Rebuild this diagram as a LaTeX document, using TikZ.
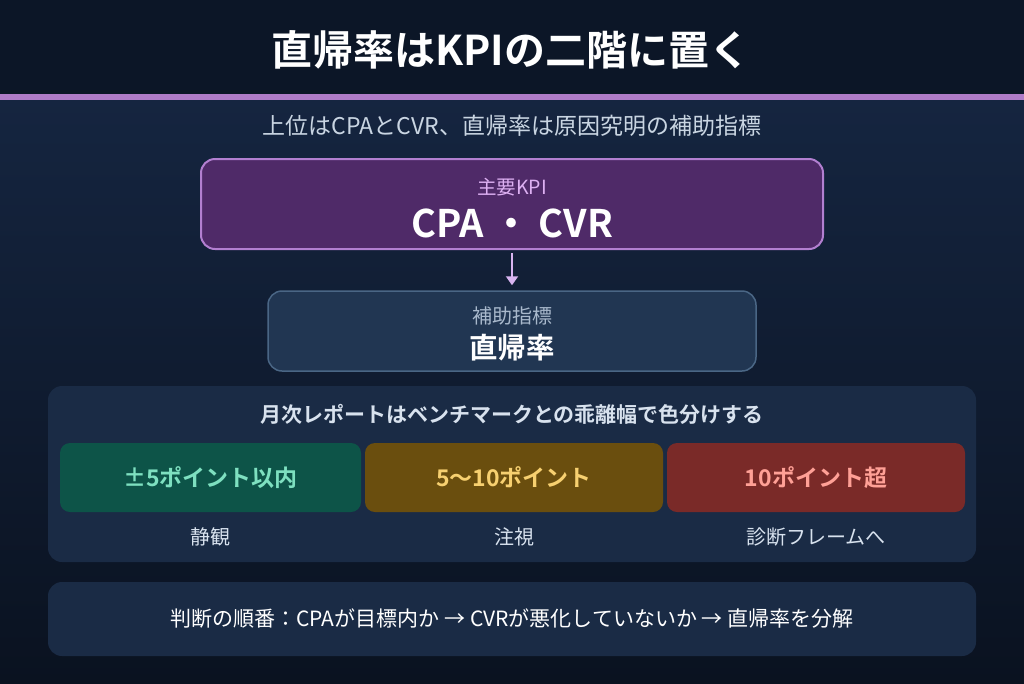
\documentclass[tikz,border=0pt]{standalone}
\usepackage{fontspec}
\setmainfont{Noto Sans CJK JP}
\newfontfamily\jpb{Noto Sans CJK JP Bold}
\usetikzlibrary{arrows.meta}
\definecolor{hdrbg}{HTML}{0C1627}
\definecolor{bgtop}{HTML}{152540}
\definecolor{bgbot}{HTML}{0A1220}
\definecolor{rule}{HTML}{B07CC8}
\definecolor{subt}{HTML}{C9D5E2}
\definecolor{kpifill}{HTML}{4F2A68}
\definecolor{kpiline}{HTML}{B27FD0}
\definecolor{kpilab}{HTML}{DDB0F2}
\definecolor{arrowc}{HTML}{D8B4F0}
\definecolor{subfill}{HTML}{213652}
\definecolor{subline}{HTML}{4A6685}
\definecolor{sublab}{HTML}{A9B9CC}
\definecolor{panel}{HTML}{1A2B45}
\definecolor{paneltxt}{HTML}{D8E2EE}
\definecolor{gfill}{HTML}{0D5448}
\definecolor{gtxt}{HTML}{7EE0C0}
\definecolor{yfill}{HTML}{6A4E0E}
\definecolor{ytxt}{HTML}{F7D070}
\definecolor{rfill}{HTML}{7A2A28}
\definecolor{rtxt}{HTML}{FFA096}
\begin{document}
\begin{tikzpicture}[x=1pt,y=-1pt,
  box/.style={rounded corners=14pt, inner sep=0pt},
  cell/.style={rounded corners=10pt, minimum width=300pt, minimum height=69pt, inner sep=0pt, font=\jpb\fontsize{23}{27}\selectfont},
  lab/.style={text=paneltxt, font=\fontsize{20}{24}\selectfont, inner sep=0pt}]
\useasboundingbox (0,0) rectangle (1024,683);
\shade[top color=bgtop, bottom color=bgbot] (0,97) rectangle (1024,683);
\fill[hdrbg] (0,0) rectangle (1024,94);
\fill[rule] (0,94) rectangle (1024,100);
\node[text=white, font=\jpb\fontsize{41}{45}\selectfont, inner sep=0pt] (title) at (511,50) {直帰率はKPIの二階に置く};
\node[text=subt, font=\fontsize{23}{26}\selectfont, inner sep=0pt] (subtitle) at (512,126) {上位はCPAとCVR、直帰率は原因究明の補助指標};
% main KPI box
\node[box, draw=kpiline, line width=2pt, fill=kpifill, minimum width=622pt, minimum height=90pt] (kpi) at (512,204) {};
\node[text=kpilab, font=\fontsize{19.5}{22}\selectfont, inner sep=0pt] (kpilabel) at (512,187) {主要KPI};
\node[text=white, font=\jpb\fontsize{38}{42}\selectfont, inner sep=0pt] (kpival) at (512,223) {CPA ・ CVR};
% sub box
\node[box, draw=subline, line width=1.5pt, fill=subfill, minimum width=488pt, minimum height=80pt] (sub) at (512,331) {};
\node[text=sublab, font=\fontsize{20}{23}\selectfont, inner sep=0pt] (sublabel) at (512,316) {補助指標};
\node[text=white, font=\jpb\fontsize{28.5}{32}\selectfont, inner sep=0pt] (subval) at (512,348) {直帰率};
\draw[arrowc, line width=2pt, -{Triangle[length=9pt,width=12pt]}, shorten <=3pt, shorten >=5pt] (kpi.south) -- (sub.north);
% panel
\node[box, fill=panel, minimum width=928pt, minimum height=176pt] (panel) at (512,474) {};
\node[text=paneltxt, font=\jpb\fontsize{21}{24}\selectfont, inner sep=0pt] (phead) at (512,414) {月次レポートはベンチマークとの乖離幅で色分けする};
\node[cell, fill=gfill, text=gtxt, minimum width=301pt] (c1) at (210.5,477.5) {±5ポイント以内};
\node[cell, fill=yfill, text=ytxt, minimum width=298pt] (c2) at (514,477.5) {5〜10ポイント};
\node[cell, fill=rfill, text=rtxt, minimum width=298pt] (c3) at (816,477.5) {10ポイント超};
\node[lab] (l1) at (210.5,537) {静観};
\node[lab] (l2) at (514,537) {注視};
\node[lab] (l3) at (816,537) {診断フレームへ};
% bottom panel
\node[box, fill=panel, minimum width=928pt, minimum height=74pt] (bottom) at (512,619) {};
\node[text=white, font=\fontsize{21}{24}\selectfont, inner sep=0pt] (order) at (512,619) {判断の順番：CPAが目標内か → CVRが悪化していないか → 直帰率を分解};
\end{tikzpicture}
\end{document}
